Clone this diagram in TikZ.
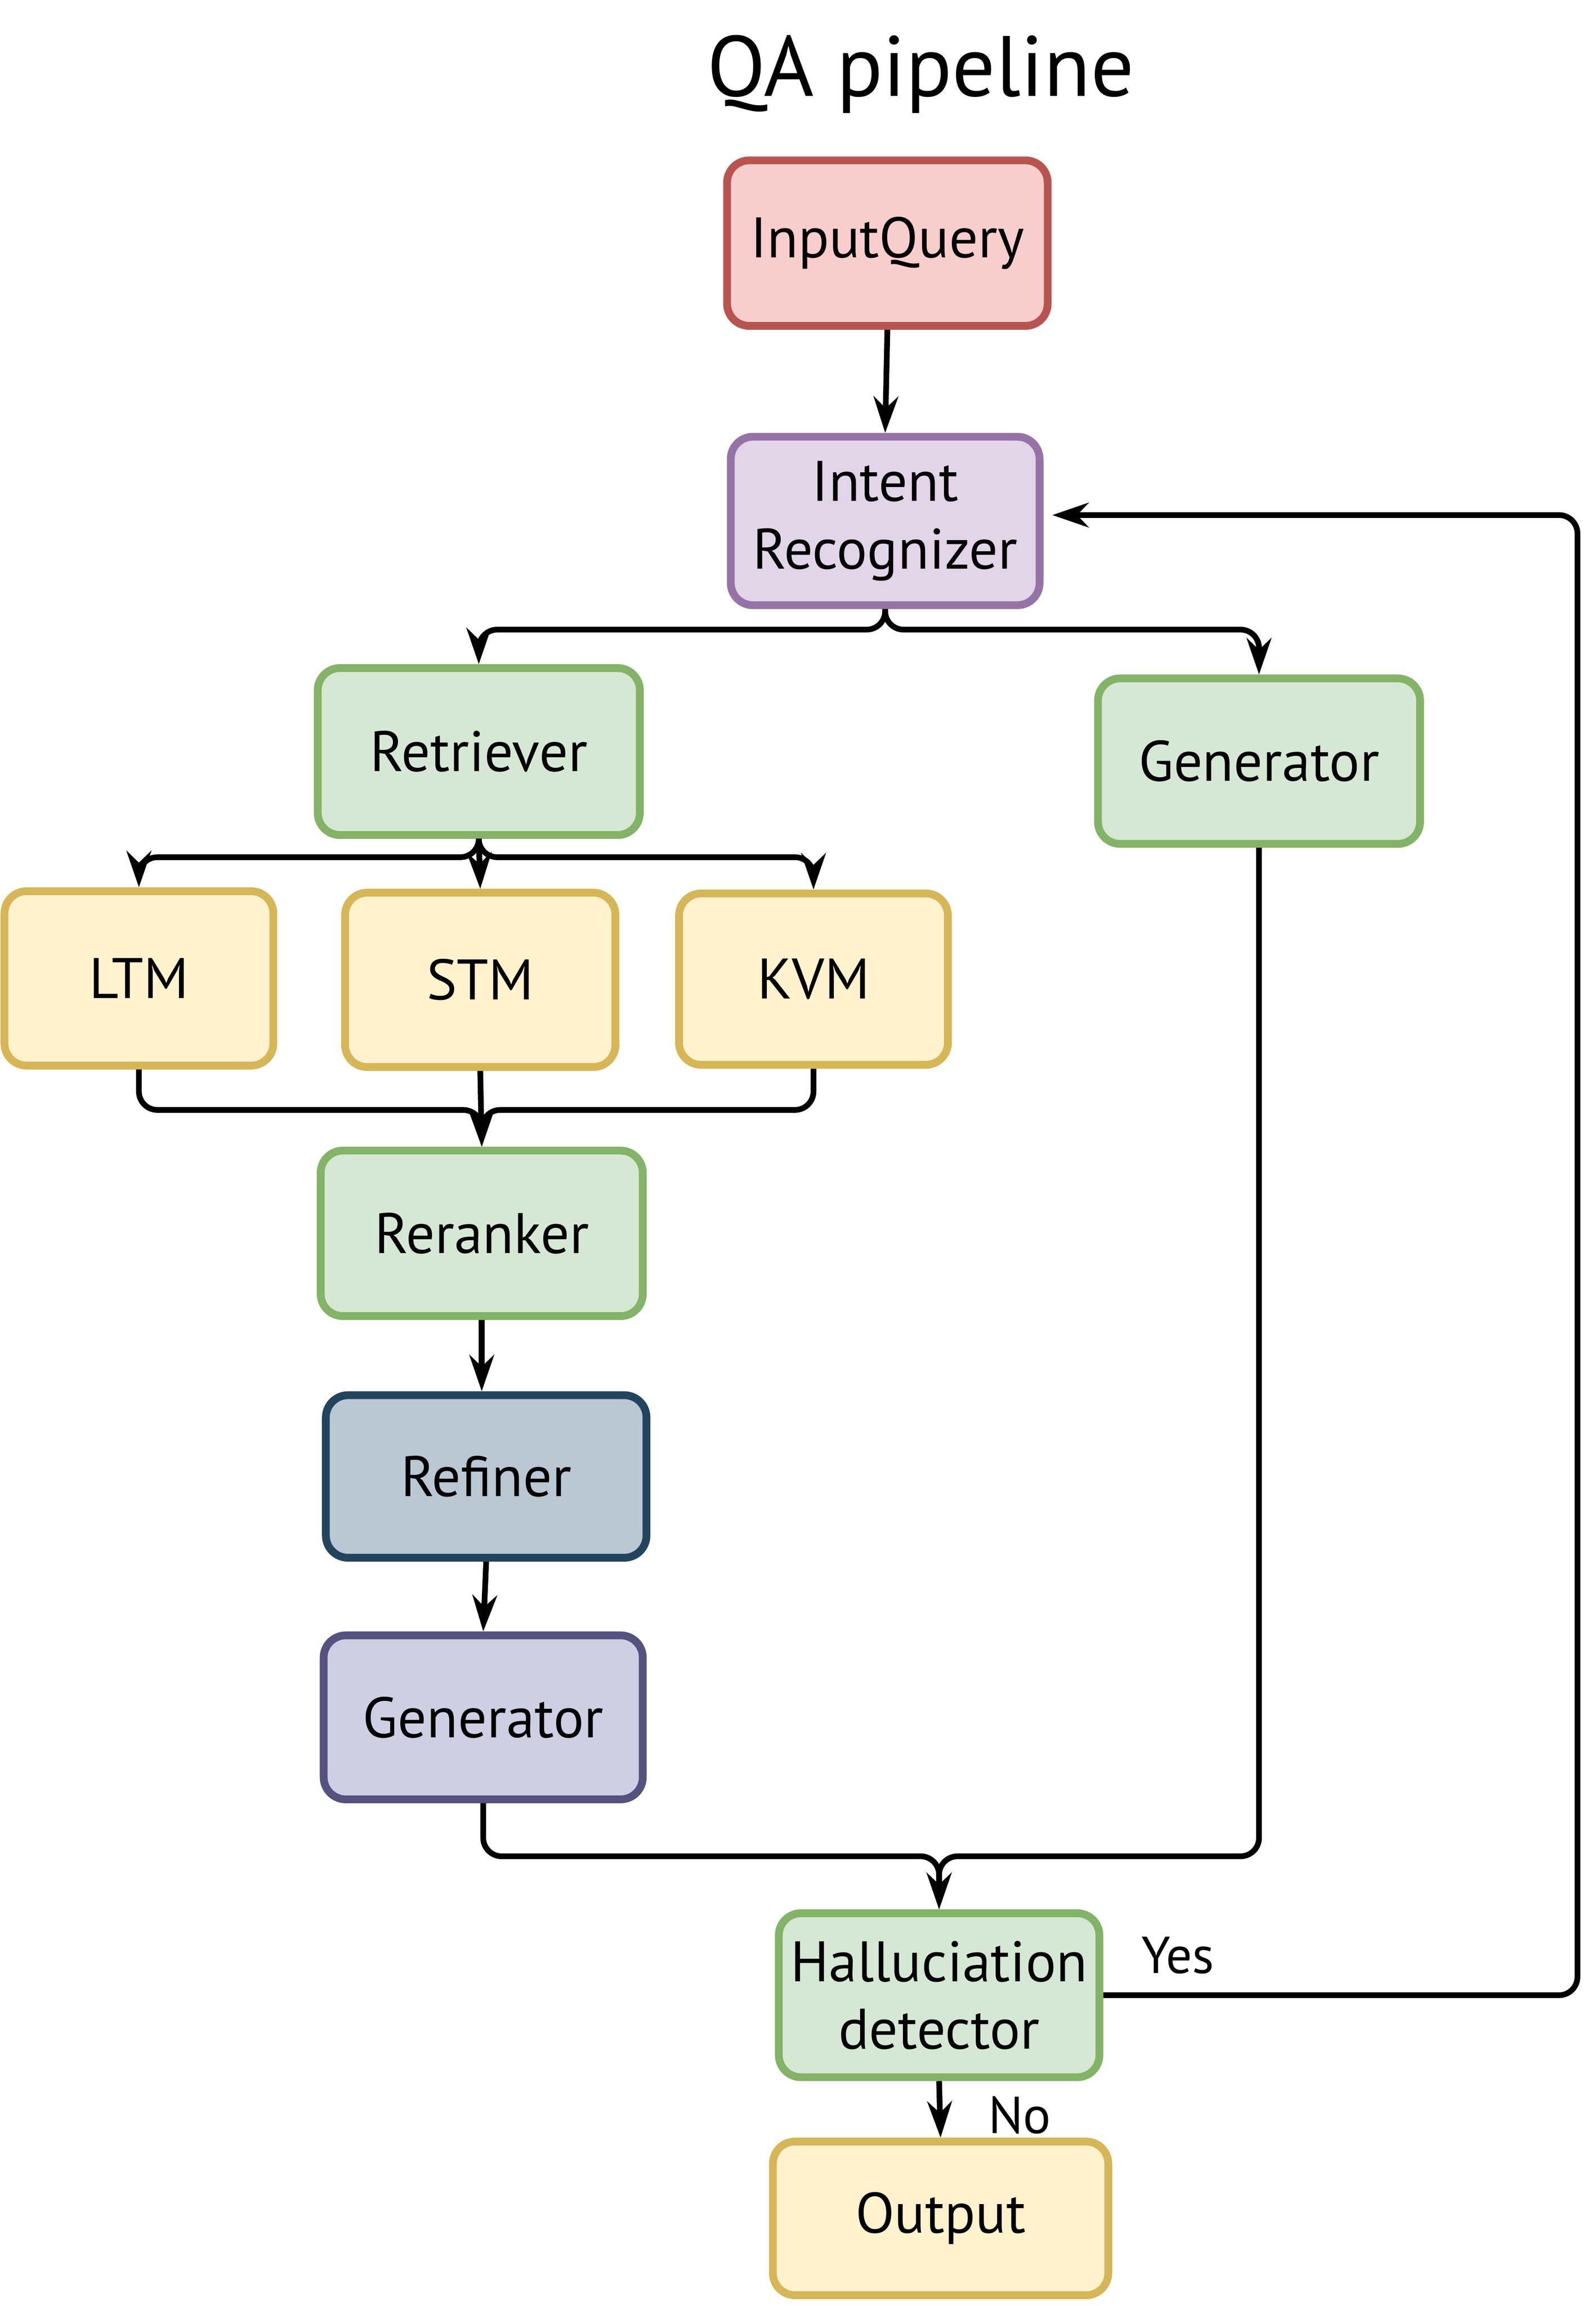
\documentclass[tikz,border=0pt]{standalone}
\usepackage{fontspec}
\setmainfont{PT Sans}
\usetikzlibrary{arrows.meta,calc}
\definecolor{redF}{HTML}{F8CECC}\definecolor{redD}{HTML}{B85450}
\definecolor{purF}{HTML}{E1D5E7}\definecolor{purD}{HTML}{9673A6}
\definecolor{grnF}{HTML}{D5E8D4}\definecolor{grnD}{HTML}{82B366}
\definecolor{yelF}{HTML}{FFF2CC}\definecolor{yelD}{HTML}{D6B656}
\definecolor{sltF}{HTML}{BAC8D3}\definecolor{sltD}{HTML}{23445D}
\definecolor{lavF}{HTML}{D0CEE2}\definecolor{lavD}{HTML}{56517E}
\tikzset{
  box/.style={draw, rounded corners=0.3cm, line width=3pt, align=center,
    font=\fontsize{22}{26}\selectfont, inner sep=0pt},
  redbox/.style={box, fill=redF, draw=redD},
  purbox/.style={box, fill=purF, draw=purD},
  grnbox/.style={box, fill=grnF, draw=grnD},
  yelbox/.style={box, fill=yelF, draw=yelD},
  sltbox/.style={box, fill=sltF, draw=sltD},
  lavbox/.style={box, fill=lavF, draw=lavD},
  conn/.style={draw, line width=2.2pt, rounded corners=0.25cm,
    -{Stealth[length=14pt, width=9.5pt, inset=4.5pt]}},
  lbl/.style={font=\fontsize{20}{24}\selectfont},
}
\begin{document}
\begin{tikzpicture}[x=0.02cm,y=-0.02cm]
\useasboundingbox (0,0) rectangle (1080,1560.3);
\node[anchor=base, font=\fontsize{33}{40}\selectfont] (title) at (623,65) {QA pipeline};
\node[redbox, minimum width=4.34cm, minimum height=2.24cm] (iq) at (600.5,164.5) {InputQuery};
\node[purbox, minimum width=4.18cm, minimum height=2.28cm] (ir) at (599,352.5) {Intent\\Recognizer};
\node[grnbox, minimum width=4.36cm, minimum height=2.26cm] (ret) at (324,508.5) {Retriever};
\node[grnbox, minimum width=4.36cm, minimum height=2.24cm] (gen1) at (852,515) {Generator};
\node[yelbox, minimum width=3.64cm, minimum height=2.36cm] (ltm) at (94,662) {LTM};
\node[yelbox, minimum width=3.66cm, minimum height=2.36cm] (stm) at (325,663) {STM};
\node[yelbox, minimum width=3.64cm, minimum height=2.32cm] (kvm) at (550.5,662.5) {KVM};
\node[grnbox, minimum width=4.36cm, minimum height=2.24cm] (rer) at (326,834.5) {Reranker};
\node[sltbox, minimum width=4.34cm, minimum height=2.2cm] (ref) at (329,999) {Refiner};
\node[lavbox, minimum width=4.32cm, minimum height=2.22cm] (gen2) at (327,1162) {Generator};
\node[grnbox, minimum width=4.34cm, minimum height=2.22cm] (hal) at (635.5,1350) {Halluciation\\detector};
\node[yelbox, minimum width=4.54cm, minimum height=2.08cm] (out) at (636.5,1501) {Output};
% connectors
\draw[conn] (iq.south) -- (ir.north);
\draw[conn] (ir.south) -- (ir.south |- 0,426) -| (ret.north);
\draw[conn] (ir.south) -- (ir.south |- 0,426) -| (gen1.north);
\draw[conn] (ret.south) -- (ret.south |- 0,580) -| (ltm.north);
\draw[conn] (ret.south) -- (stm.north);
\draw[conn] (ret.south) -- (ret.south |- 0,580) -| (kvm.north);
\draw[conn] (ltm.south) -- (ltm.south |- 0,751) -| (rer.north);
\draw[conn] (stm.south) -- (rer.north);
\draw[conn] (kvm.south) -- (kvm.south |- 0,751) -| (rer.north);
\draw[conn] (rer.south) -- (rer.south |- ref.north);
\draw[conn] (ref.south) -- (gen2.north);
\draw[conn] (gen2.south) -- (gen2.south |- 0,1256) -| (hal.north);
\draw[conn] (gen1.south) -- (gen1.south |- 0,1256) -| (hal.north);
\draw[conn, shorten >=0.12cm] (hal.east) -- (hal.east -| 1067.5,0) |- ($(ir.east)+(0,-4)$);
\draw[conn] (hal.south) -- (out.north);
\node[lbl] (yes) at (797,1323) {Yes};
\node[lbl] (no) at (690,1431) {No};
\end{tikzpicture}
\end{document}
